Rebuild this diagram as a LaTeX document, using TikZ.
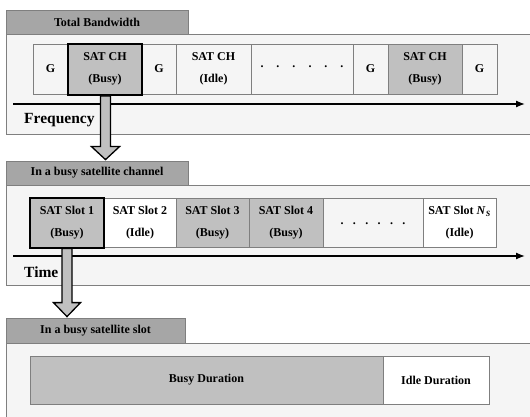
\documentclass[tikz,border=0pt]{standalone}
\usepackage{fontspec}
\setmainfont{Liberation Serif}
\usetikzlibrary{arrows.meta,calc}
\definecolor{panelbg}{HTML}{F5F5F5}
\definecolor{tabfill}{HTML}{A6A6A6}
\definecolor{busyfill}{HTML}{C0C0C0}
\definecolor{edgegray}{HTML}{7F7F7F}
\begin{document}
\begin{tikzpicture}[x=1pt,y=-1pt,
  panel/.style={draw=edgegray,fill=panelbg,line width=0.8pt},
  tab/.style={draw=edgegray,fill=tabfill,line width=0.8pt,inner sep=0pt,font=\fontsize{12}{14}\selectfont\bfseries},
  cell/.style={draw=edgegray,line width=0.8pt,inner sep=0pt,align=center,font=\fontsize{12}{22}\selectfont\bfseries},
  idle/.style={cell,fill=white},
  gap/.style={cell,fill=panelbg},
  busy/.style={cell,fill=busyfill},
  sel/.style={draw=black,line width=2pt,inner sep=0pt},
  axis/.style={draw=black,line width=1.3pt,-{Latex[length=9pt,width=7pt]}},
  axlabel/.style={anchor=west,inner sep=0pt,font=\fontsize{15.5}{18}\selectfont\bfseries},
  blockarrow/.style={draw=black,fill=busyfill,line width=1.3pt,line join=miter},
  dots/.style={inner sep=0pt,font=\fontsize{12}{14}\selectfont\bfseries}
]
\useasboundingbox (0,0) rectangle (530,417);
\clip (0,0) rectangle (530,417);

% ---------- Section 1 ----------
\draw[panel] (6,34) rectangle (560,134);
\node[tab,minimum width=182pt,minimum height=24pt] (tab1) at (97,22) {Total Bandwidth};

\node[gap, minimum width=35pt,minimum height=50pt] (g1) at (50.5,69) {G};
\node[busy,minimum width=74pt,minimum height=50pt] (ch1) at (105,69) {SAT CH\\(Busy)};
\node[gap, minimum width=34pt,minimum height=50pt] (g2) at (159,69) {G};
\node[gap, minimum width=75pt,minimum height=50pt] (ch2) at (213.5,69) {SAT CH\\(Idle)};
\node[gap, minimum width=102pt,minimum height=50pt] (d1) at (302,69) {};
\node[dots] (d1t) at (302,67) {.\hskip13pt.\hskip13pt.\hskip13pt.\hskip13pt.\hskip13pt.};
\node[gap, minimum width=35pt,minimum height=50pt] (g3) at (370.5,69) {G};
\node[busy,minimum width=74pt,minimum height=50pt] (ch3) at (425,69) {SAT CH\\(Busy)};
\node[gap, minimum width=35pt,minimum height=50pt] (g4) at (479.5,69) {G};
\node[sel,minimum width=74pt,minimum height=51pt] (ch1sel) at (105,69.5) {};

\coordinate (ax1s) at (13,104);
\coordinate (ax1e) at (525,104);
\draw[axis] (ax1s) -- (ax1e);
\node[axlabel] (freq) at (24,120) {Frequency};

% ---------- Section 2 ----------
\draw[panel] (6,185) rectangle (560,285);
\node[tab,minimum width=182pt,minimum height=24pt] (tab2) at (97,173) {In a busy satellite channel};

\node[busy,minimum width=74pt,minimum height=49pt] (s1) at (67,222.5) {SAT Slot 1\\(Busy)};
\node[idle,minimum width=72pt,minimum height=49pt] (s2) at (140,222.5) {SAT Slot 2\\(Idle)};
\node[busy,minimum width=73pt,minimum height=49pt] (s3) at (212.5,222.5) {SAT Slot 3\\(Busy)};
\node[busy,minimum width=74pt,minimum height=49pt] (s4) at (286,222.5) {SAT Slot 4\\(Busy)};
\node[gap, minimum width=100pt,minimum height=49pt] (d2) at (373,222.5) {};
\node[dots] (d2t) at (373,224) {.\hskip9.4pt.\hskip9.4pt.\hskip9.4pt.\hskip9.4pt.\hskip9.4pt.};
\node[idle,minimum width=73pt,minimum height=49pt] (sn) at (459.5,222.5) {SAT Slot \textit{N}\textsubscript{\textit{S}}\\(Idle)};
\node[sel,minimum width=74pt,minimum height=50pt] (s1sel) at (67,222.5) {};

\coordinate (ax2s) at (13,256);
\coordinate (ax2e) at (525,256);
\draw[axis] (ax2s) -- (ax2e);
\node[axlabel] (time) at (24,272) {Time};

% ---------- Section 3 ----------
\draw[panel] (6,343) rectangle (560,440);
\node[tab,minimum width=179pt,minimum height=25pt] (tab3) at (95.5,330.5) {In a busy satellite slot};

\node[busy,minimum width=353pt,minimum height=48pt] (bd) at (206.5,380) {Busy Duration};
\node[idle,minimum width=106pt,minimum height=48pt] (id) at (436,380) {Idle Duration};

% ---------- Block arrows ----------
\coordinate (tip1) at ($(ch1sel.south |- tab2.north)+(0.5,-1)$);
\coordinate (top1) at ($(ch1sel.south)+(0.5,0)$);
\draw[blockarrow] ($(top1)+(-5,0)$) -- ($(tip1)+(-5,-13)$) -- ($(tip1)+(-14,-13)$) -- (tip1)
  -- ($(tip1)+(14,-13)$) -- ($(tip1)+(5,-13)$) -- ($(top1)+(5,0)$) -- cycle;

\coordinate (tip2) at ($(s1sel.south |- tab3.north)+(0,-1)$);
\coordinate (top2) at (s1sel.south);
\draw[blockarrow] ($(top2)+(-5,0)$) -- ($(tip2)+(-5,-14)$) -- ($(tip2)+(-13.5,-14)$) -- (tip2)
  -- ($(tip2)+(13.5,-14)$) -- ($(tip2)+(5,-14)$) -- ($(top2)+(5,0)$) -- cycle;
\end{tikzpicture}
\end{document}
